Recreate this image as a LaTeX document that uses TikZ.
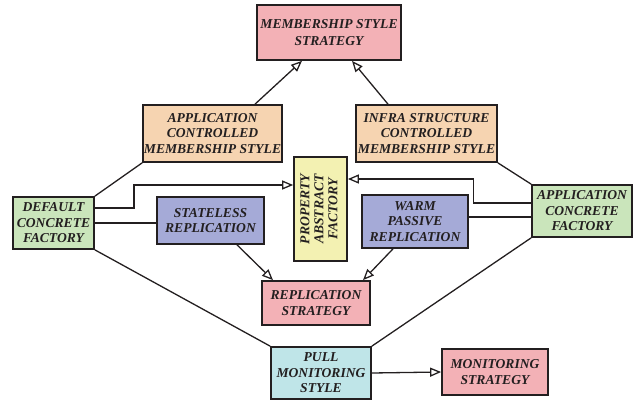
\documentclass[tikz,border=0pt]{standalone}
\usepackage{fontspec}
\usepackage{graphicx}
\setmainfont{Liberation Serif}
\usetikzlibrary{arrows.meta}

\definecolor{inkgray}{HTML}{231F20}
\definecolor{boxpink}{HTML}{F3B1B6}
\definecolor{boxorange}{HTML}{F6D4B1}
\definecolor{boxgreen}{HTML}{CAE5BB}
\definecolor{boxblue}{HTML}{A5AAD7}
\definecolor{boxyellow}{HTML}{F3F1B2}
\definecolor{boxcyan}{HTML}{BFE5E8}

\tikzset{
  box/.style={draw=inkgray, line width=1.7pt, inner sep=0pt, align=center,
    text=inkgray, font=\fontsize{13.6}{15.5}\selectfont\bfseries\itshape},
  link/.style={draw=inkgray, line width=1.3pt},
  arr/.style={link, -{Triangle[open, length=11pt, width=9pt, fill=white]}},
}

\begin{document}
\begin{tikzpicture}[x=1pt, y=1pt]
  \useasboundingbox (0,0) rectangle (634,-401);

  % strategies
  \node[box, fill=boxpink, minimum width=144pt, minimum height=55pt]
    (mss) at (329,-32.5) {MEMBERSHIP STYLE\\[1.5pt]STRATEGY};
  \node[box, fill=boxpink, minimum width=108pt, minimum height=44pt]
    (rs) at (316,-303) {REPLICATION\\STRATEGY};
  \node[box, fill=boxpink, minimum width=106pt, minimum height=46pt]
    (ms) at (495,-372) {MONITORING\\STRATEGY};

  % membership styles
  \node[box, fill=boxorange, minimum width=139pt, minimum height=57pt]
    (acm) at (212.5,-133.5) {APPLICATION\\CONTROLLED\\MEMBERSHIP STYLE};
  \node[box, fill=boxorange, minimum width=141pt, minimum height=57pt]
    (ism) at (426.5,-133.5) {INFRA STRUCTURE\\CONTROLLED\\MEMBERSHIP STYLE};

  % factories
  \node[box, fill=boxgreen, minimum width=81pt, minimum height=52pt]
    (dcf) at (53.5,-223) {DEFAULT\\CONCRETE\\FACTORY};
  \node[box, fill=boxgreen, minimum width=100pt, minimum height=52pt]
    (acf) at (582,-211) {APPLICATION\\CONCRETE\\FACTORY};
  \node[box, fill=boxyellow, minimum width=53pt, minimum height=104pt]
    (paf) at (320.5,-209)
    {\rotatebox{90}{\fontsize{13.6}{14}\selectfont\begin{tabular}{@{}c@{}}PROPERTY\\ABSTRACT\\FACTORY\end{tabular}}};

  % replication styles
  \node[box, fill=boxblue, minimum width=107pt, minimum height=47pt]
    (sr) at (210.5,-220.5) {STATELESS\\REPLICATION};
  \node[box, fill=boxblue, minimum width=106pt, minimum height=53pt]
    (wpr) at (415,-221.5) {WARM\\PASSIVE\\REPLICATION};

  % monitoring style
  \node[box, fill=boxcyan, minimum width=100pt, minimum height=52pt]
    (pms) at (321,-373) {PULL\\MONITORING\\STYLE};

  % generalisations towards the strategies
  \draw[arr] ([xshift=42.5pt]acm.north) -- ([xshift=-27pt]mss.south);
  \draw[arr] ([xshift=-38.5pt]ism.north) -- ([xshift=23pt]mss.south);
  \draw[arr] ([xshift=26.5pt]sr.south) -- ([xshift=-43pt]rs.north);
  \draw[arr] ([xshift=-22pt]wpr.south) -- ([xshift=47pt]rs.north);
  \draw[arr] (pms.east) -- (ms.west);

  % factory links
  \draw[arr] ([yshift=15pt]dcf.east) -- ++(39pt,0) |- ([yshift=24pt]paf.west);
  \draw[arr] ([yshift=8pt]acf.west) -- ++(-58pt,0) |- ([yshift=30pt]paf.east);
  \draw[link] (dcf.east) -- (dcf.east -| sr.west);
  \draw[link] ([yshift=-6pt]acf.west) -- ([yshift=-6pt]acf.west -| wpr.east);

  % associations
  \draw[link] (dcf.north east) -- (acm.south west);
  \draw[link] (acf.north west) -- (ism.south east);
  \draw[link] (dcf.south east) -- (pms.north west);
  \draw[link] (acf.south west) -- (pms.north east);
\end{tikzpicture}
\end{document}
